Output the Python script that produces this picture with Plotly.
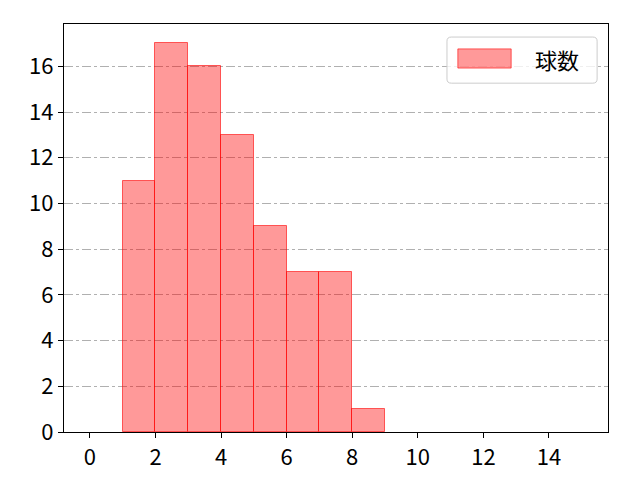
import plotly.graph_objects as go

# histogram bins (left edges) and counts
bin_starts = [1, 2, 3, 4, 5, 6, 7, 8]
counts = [11, 17, 16, 13, 9, 7, 7, 1]
x_ticks = [0, 2, 4, 6, 8, 10, 12, 14]
y_ticks = [0, 2, 4, 6, 8, 10, 12, 14, 16]
series_name = "球数"

bar_fill = "rgba(255,0,0,0.4)"
bar_edge = "rgba(255,0,0,0.6)"

fig = go.Figure()
fig.add_trace(go.Bar(
    x=bin_starts,
    y=counts,
    width=1,
    offset=0,
    name=series_name,
    marker=dict(color=bar_fill, line=dict(color=bar_edge, width=1)),
    showlegend=False,
))

axis_common = dict(
    showline=True, linecolor="black", linewidth=1.4, mirror=True,
    ticks="outside", ticklen=5, tickwidth=1.4, tickcolor="black",
    zeroline=False, automargin=False,
    tickfont=dict(size=22, color="black"),
)

fig.update_xaxes(range=[-0.79, 15.8], tickvals=x_ticks, showgrid=False, **axis_common)
fig.update_yaxes(range=[0, 17.85], tickvals=y_ticks, showgrid=True,
                 gridcolor="#b0b0b0", gridwidth=1, griddash="dashdot", **axis_common)

# hand-made legend box like matplotlib's (rounded frame, wide patch)
x0, x1, y0, y1 = 0.704, 0.980, 0.855, 0.968
rx, ry = 0.008, 0.010
path = (f"M {x0+rx},{y0} L {x1-rx},{y0} Q {x1},{y0} {x1},{y0+ry} "
        f"L {x1},{y1-ry} Q {x1},{y1} {x1-rx},{y1} L {x0+rx},{y1} "
        f"Q {x0},{y1} {x0},{y1-ry} L {x0},{y0+ry} Q {x0},{y0} {x0+rx},{y0} Z")
fig.add_shape(type="path", path=path, xref="paper", yref="paper",
              fillcolor="rgba(255,255,255,0.8)", line=dict(color="#cccccc", width=1),
              layer="above")
fig.add_shape(type="rect", xref="paper", yref="paper",
              x0=0.724, x1=0.822, y0=0.892, y1=0.939,
              fillcolor=bar_fill, line=dict(color=bar_edge, width=1), layer="above")
fig.add_annotation(x=0.862, y=0.914, xref="paper", yref="paper",
                   xanchor="left", yanchor="middle", showarrow=False,
                   text=series_name, font=dict(size=22, color="black"))

fig.update_layout(
    width=632, height=472,
    margin=dict(l=56, r=32, t=16, b=48),
    plot_bgcolor="white", paper_bgcolor="white",
    font=dict(family="Noto Sans CJK JP, sans-serif", size=22, color="black"),
    bargap=0,
)

fig.write_html("out.html")
